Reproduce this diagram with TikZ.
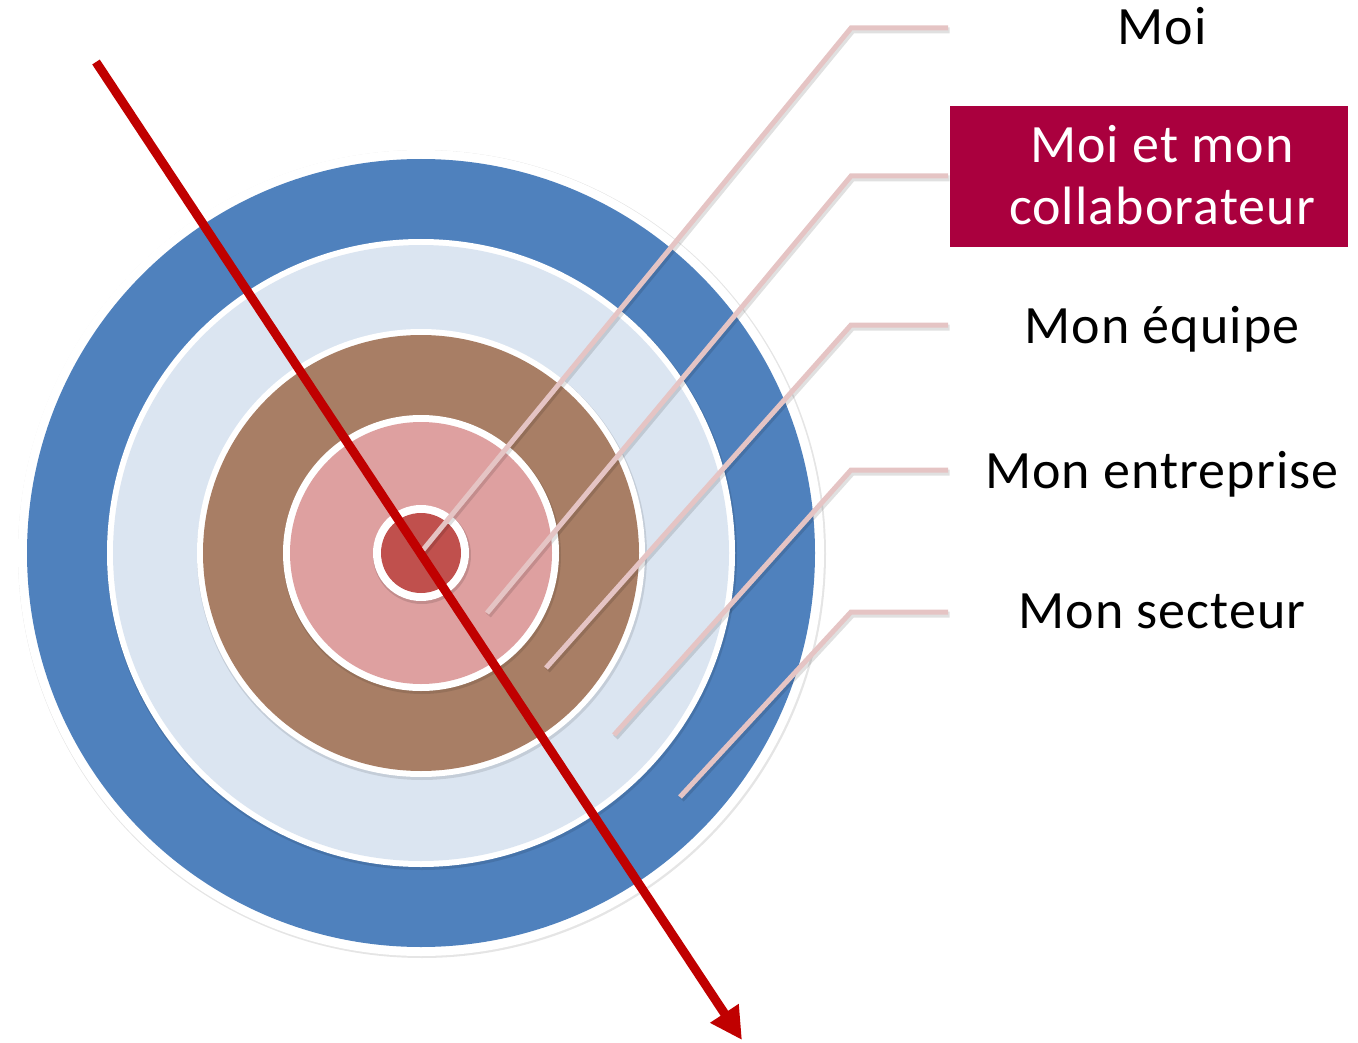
\documentclass[tikz,border=0pt]{standalone}
\usepackage{fontspec}
\setmainfont{Carlito}[LetterSpace=2]
\usetikzlibrary{arrows.meta}
\definecolor{ringblue}{RGB}{79,129,189}
\definecolor{ringlight}{RGB}{219,229,241}
\definecolor{ringbrown}{RGB}{168,126,101}
\definecolor{ringpink}{RGB}{222,160,160}
\definecolor{ringred}{RGB}{192,80,77}
\definecolor{arrowred}{RGB}{192,0,0}
\definecolor{leader}{RGB}{229,196,196}
\definecolor{boxred}{RGB}{170,0,62}
\begin{document}
\begin{tikzpicture}[x=1pt,y=-1pt,
  lbl/.style={anchor=base, font=\fontsize{54}{64}\selectfont, inner sep=0pt},
  leaderline/.style={draw=leader, line width=5pt},
  leadershadow/.style={draw=black, opacity=0.12, line width=6pt},
  whitering/.style={fill=white},
]
\useasboundingbox (0,0) rectangle (1358,1043);
\coordinate (c) at (421,553);
% target discs
\fill[black!10] ([shift={(1,1)}]c) circle[radius=404pt];
\fill[white] (c) circle[radius=403pt];
\fill[ringblue] (c) circle[radius=394pt];
\fill[black,opacity=0.10] ([shift={(1,2)}]c) circle[radius=315pt];
\fill[whitering] (c) circle[radius=314pt];
\fill[ringlight] (c) circle[radius=308pt];
\fill[black,opacity=0.10] ([shift={(1,2)}]c) circle[radius=225pt];
\fill[whitering] (c) circle[radius=224pt];
\fill[ringbrown] (c) circle[radius=218pt];
\fill[black,opacity=0.10] ([shift={(1,2)}]c) circle[radius=139pt];
\fill[whitering] (c) circle[radius=138pt];
\fill[ringpink] (c) circle[radius=131pt];
\fill[black,opacity=0.12] ([shift={(1,2)}]c) circle[radius=49pt];
\fill[whitering] (c) circle[radius=48pt];
\fill[ringred] (c) circle[radius=40pt];
% leader coordinates
\coordinate (s1) at (423,550); \coordinate (k1) at (851,28);  \coordinate (e1) at (948,28);
\coordinate (s2) at (487,613); \coordinate (k2) at (851,176); \coordinate (e2) at (948,176);
\coordinate (s3) at (546,668); \coordinate (k3) at (851,325); \coordinate (e3) at (948,325);
\coordinate (s4) at (614,735); \coordinate (k4) at (851,470); \coordinate (e4) at (948,470);
\coordinate (s5) at (680,797); \coordinate (k5) at (851,612); \coordinate (e5) at (948,612);
\foreach \i in {1,...,5}{
  \draw[leadershadow] ([shift={(1.5,2.5)}]s\i) -- ([shift={(1.5,2.5)}]k\i) -- ([shift={(1.5,2.5)}]e\i);
  \draw[leaderline] (s\i) -- (k\i) -- (e\i);
}
% red arrow
\coordinate (as) at (96,62);
\coordinate (ae) at (742,1040);
\draw[arrowred, line width=9pt, -{Triangle[length=32pt,width=32pt]}] (as) -- (ae);
% labels
\node[lbl] (moi) at (1162,45) {Moi};
\node[fill=boxred, minimum width=398pt, minimum height=141pt, inner sep=0pt] (box) at (1149,176.5) {};
\node[lbl, text=white] (collab1) at (1162,163) {Moi et mon};
\node[lbl, text=white] (collab2) at (1162,225) {collaborateur};
\node[lbl] (equipe) at (1162,343) {Mon équipe};
\node[lbl] (entreprise) at (1162,488) {Mon entreprise};
\node[lbl] (secteur) at (1162,628) {Mon secteur};
\end{tikzpicture}
\end{document}
